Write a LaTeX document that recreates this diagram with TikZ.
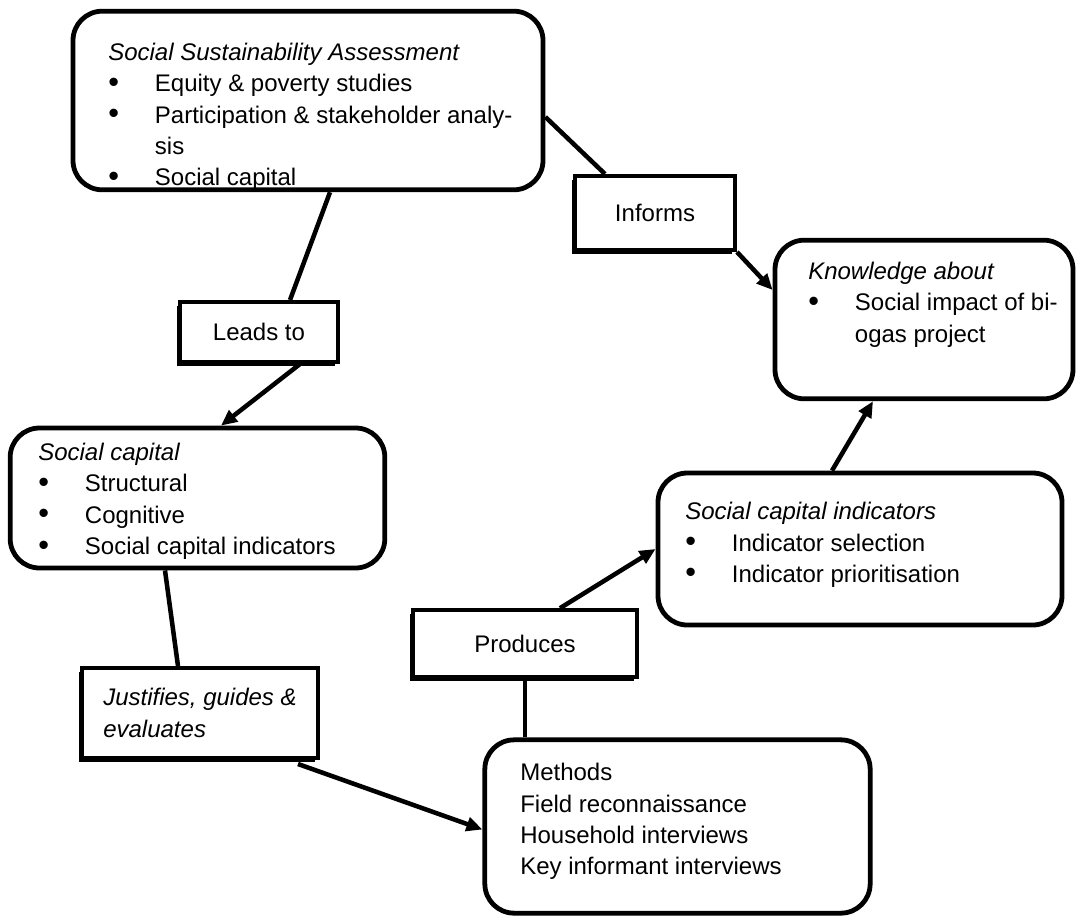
\documentclass[tikz,border=0pt]{standalone}
\usepackage{fontspec}
\setmainfont{Liberation Sans}
\usetikzlibrary{arrows.meta, calc, shadows}

\newcommand{\bitem}{\makebox[35pt][l]{\raisebox{-0.3pt}{\fontsize{23}{23}\selectfont\textbullet}}}
\newcommand{\bcont}{\hspace*{35pt}}

\begin{document}
\begin{tikzpicture}[
    x=0.75pt, y=-0.75pt,
    every node/.style={font=\fontsize{18}{23.5}\selectfont},
    bigbox/.style={rectangle, draw, line width=3.6pt, rounded corners=22pt, inner sep=0pt},
    lbl/.style={rectangle, draw, line width=3pt, fill=white, inner sep=0pt, align=left,
        drop shadow={shadow xshift=-2.2pt, shadow yshift=-2.8pt, fill=black, opacity=1}},
    txt/.style={anchor=north west, inner sep=0pt, align=left},
    link/.style={line width=3.4pt},
    arrow/.style={link, -{Triangle[length=12pt, width=10.5pt]}},
]
\useasboundingbox (0,0) rectangle (1082,918);

% rounded boxes
\node[bigbox, minimum width=352.5pt, minimum height=134pt] (ssa) at (308,100.5) {};
\node[bigbox, minimum width=223.5pt, minimum height=119pt] (know) at (924,319.5) {};
\node[bigbox, minimum width=281pt, minimum height=105pt] (scap) at (197.5,498) {};
\node[bigbox, minimum width=303pt, minimum height=114pt] (ind) at (860,549) {};
\node[bigbox, minimum width=289pt, minimum height=130pt] (meth) at (677.5,826.5) {};

% box texts
\node[txt] (ssatxt) at (108,43) {\textit{Social Sustainability Assessment}\\
    \bitem Equity \& poverty studies\\
    \bitem Participation \& stakeholder analy-\\
    \bcont sis\\
    \bitem Social capital};
\node[txt] (knowtxt) at (808,262) {\textit{Knowledge about}\\
    \bitem Social impact of bi-\\
    \bcont ogas project};
\node[txt] (scaptxt) at (38,443) {\textit{Social capital}\\
    \bitem Structural\\
    \bitem Cognitive\\
    \bitem Social capital indicators};
\node[txt] (indtxt) at (685,502) {\textit{Social capital indicators}\\
    \bitem Indicator selection\\
    \bitem Indicator prioritisation};
\node[txt] (methtxt) at (520,763) {Methods\\
    Field reconnaissance\\
    Household interviews\\
    Key informant interviews};

% labels
\node[lbl, minimum width=120pt, minimum height=55.5pt] (informs) at (655,213) {Informs};
\node[lbl, minimum width=118.5pt, minimum height=45pt] (leads) at (259,332) {Leads to};
\node[lbl, minimum width=177pt, minimum height=67.5pt] (just) at (200,713) {\textit{Justifies, guides \&}\\ \textit{evaluates}};
\node[lbl, minimum width=168pt, minimum height=50pt] (prod) at (525,643.5) {Produces};

% connectors
\draw[link] ($(ssa.south)+(22,0)$) -- ($(leads.north)+(31,0)$);
\draw[arrow] ($(leads.south)+(41,0)$) -- ($(scap.north)+(23.5,0)$);
\draw[link] ($(ssa.east)+(0,16.5)$) -- ($(informs.north)+(-50,0)$);
\draw[arrow] (informs.south east) -- ($(know.west)+(0,-29.5)$);
\draw[link] ($(scap.south)+(-32.5,0)$) -- ($(just.north)+(-22,0)$);
\draw[arrow] ($(just.south)+(98,4)$) -- ($(meth.west)+(0,3)$);
\draw[link] ($(meth.north)+(-152.5,0)$) -- (prod.south);
\draw[arrow] ($(prod.north)+(35,0)$) -- (ind.west);
\draw[arrow] ($(ind.north)+(-28,0)$) -- ($(know.south)+(-51,0)$);

\end{tikzpicture}
\end{document}
